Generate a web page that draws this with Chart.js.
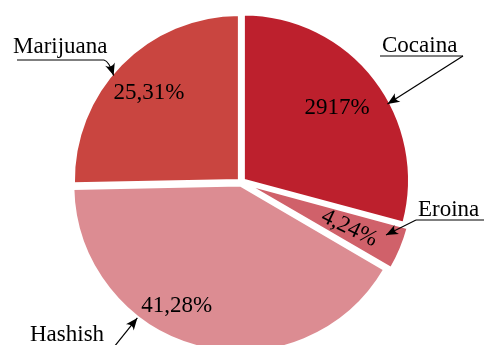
<!DOCTYPE html>
<html>
<head>
<meta charset="utf-8">
<script src="https://cdn.jsdelivr.net/npm/chart.js@4/dist/chart.umd.min.js"></script>
<style>
  html, body { margin: 0; padding: 0; background: #ffffff; }
  #wrap { width: 484px; height: 345px; position: relative; }
</style>
</head>
<body>
<div id="wrap"><canvas id="c"></canvas></div>
<script>
// Drug categories and their share of the total (percent)
const categories = ['Cocaina', 'Eroina', 'Hashish', 'Marijuana'];
const shares = [29.17, 4.24, 41.28, 25.31];
// Percentage text printed inside each slice
const valueLabels = ['2917%', '4,24%', '41,28%', '25,31%'];

const sliceColors = ['#BD202D', '#D0616A', '#DC8C92', '#C94540'];
// Explode distances (Chart.js moves an arc by a quarter of this value)
const sliceOffsets = [12, 17, 12, 9];

// Inside-label placement: fraction of the slice's angular span, fraction of radius, rotate along radius
const insideLabelPlacement = [
  { f: 0.5, r: 0.73, rot: false },
  { f: 0.53, r: 0.71, rot: true },
  { f: 0.587, r: 0.84, rot: false },
  { f: 0.495, r: 0.77, rot: false }
];

// Callouts: name text, underline, leader start (with optional bend) and arrow target on the slice
const callouts = [
  { text: 'Cocaina', tx: 382, ty: 52, ul: [380, 463], uly: 56, from: [463, 56], bend: null, f: 0.59, r: 1.0 },
  { text: 'Eroina', tx: 418, ty: 216, ul: [416, 484], uly: 220, from: [416, 220], bend: null, f: 0.33, r: 0.93 },
  { text: 'Hashish', tx: 30, ty: 341, ul: null, uly: 0, from: [114, 347], bend: null, f: 0.653, r: 1.03 },
  { text: 'Marijuana', tx: 13, ty: 53, ul: [17, 104], uly: 60, from: [104, 60], bend: [109, 61], f: 0.45, r: 1.0 }
];

const FONT = '23px "Liberation Serif", "Times New Roman", serif';

function drawArrowHead(ctx, x0, y0, x1, y1) {
  const a = Math.atan2(y1 - y0, x1 - x0);
  const len = 12, w = 5;
  ctx.save();
  ctx.translate(x1, y1);
  ctx.rotate(a);
  ctx.beginPath();
  ctx.moveTo(0, 0);
  ctx.lineTo(-len, -w);
  ctx.quadraticCurveTo(-len * 0.6, 0, -len, w);
  ctx.closePath();
  ctx.fill();
  ctx.restore();
}

const labelPlugin = {
  id: 'sliceLabels',
  afterDraw(chart) {
    const ctx = chart.ctx;
    const arcs = chart.getDatasetMeta(0).data;
    ctx.save();
    ctx.font = FONT;
    ctx.fillStyle = '#000';
    ctx.strokeStyle = '#000';
    ctx.textBaseline = 'middle';
    ctx.textAlign = 'center';

    arcs.forEach((arc, i) => {
      const p = insideLabelPlacement[i];
      const a = arc.startAngle + p.f * (arc.endAngle - arc.startAngle);
      const x = arc.x + Math.cos(a) * arc.outerRadius * p.r;
      const y = arc.y + Math.sin(a) * arc.outerRadius * p.r;
      ctx.save();
      ctx.translate(x, y);
      if (p.rot) ctx.rotate(a + 0.05);
      ctx.fillText(valueLabels[i], 0, 0);
      ctx.restore();
    });

    ctx.textAlign = 'left';
    ctx.textBaseline = 'alphabetic';
    ctx.lineWidth = 1.2;
    callouts.forEach((c, i) => {
      const arc = arcs[i];
      ctx.fillText(c.text, c.tx, c.ty);
      if (c.ul) {
        ctx.beginPath();
        ctx.moveTo(c.ul[0], c.uly);
        ctx.lineTo(c.ul[1], c.uly);
        ctx.stroke();
      }
      const a = arc.startAngle + c.f * (arc.endAngle - arc.startAngle);
      const tx = arc.x + Math.cos(a) * arc.outerRadius * c.r;
      const ty = arc.y + Math.sin(a) * arc.outerRadius * c.r;
      ctx.beginPath();
      ctx.moveTo(c.from[0], c.from[1]);
      if (c.bend) {
        ctx.quadraticCurveTo(c.bend[0], c.bend[1], tx, ty);
      } else {
        ctx.lineTo(tx, ty);
      }
      ctx.stroke();
      const src = c.bend || c.from;
      drawArrowHead(ctx, src[0], src[1], tx, ty);
    });
    ctx.restore();
  }
};

new Chart(document.getElementById('c'), {
  type: 'pie',
  data: {
    labels: categories,
    datasets: [{
      data: shares,
      backgroundColor: sliceColors,
      borderColor: '#ffffff',
      borderWidth: 3,
      offset: sliceOffsets
    }]
  },
  options: {
    responsive: true,
    maintainAspectRatio: false,
    animation: false,
    radius: 166,
    layout: { padding: { top: 19, bottom: 0, left: 0, right: 2 } },
    plugins: {
      legend: { display: false },
      tooltip: { enabled: false }
    }
  },
  plugins: [labelPlugin]
});
</script>
</body>
</html>
